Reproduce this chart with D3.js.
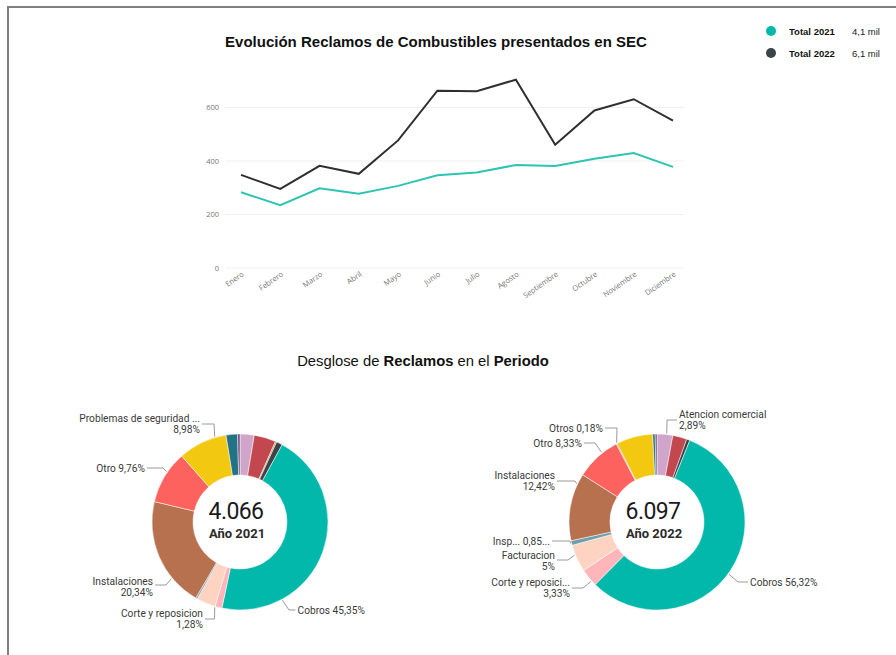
<!DOCTYPE html>
<head>
<meta charset="UTF-8">
<script src="https://d3js.org/d3.v7.min.js"></script>
<style>
  body { margin: 0; background: #fff; }
  svg { display: block; }
</style>
</head>
<body>
<div id="my_dataviz"></div>
<script>

// ---- data ----
var months = ["Enero","Febrero","Marzo","Abril","Mayo","Junio","Julio","Agosto","Septiembre","Octubre","Noviembre","Diciembre"];
var total2021 = [283, 235, 298, 278, 307, 347, 357, 385, 381, 408, 430, 378];
var total2022 = [348, 296, 382, 352, 477, 663, 661, 704, 461, 589, 631, 551];
var yTicks = [0, 200, 400, 600];

var legendNames = ["Total 2021", "Total 2022"];
var legendValues = ["4,1 mil", "6,1 mil"];

// slices in display order (clockwise from 12 o'clock)
var cats2021 = ["Atencion comercial","Calidad de suministro","Cambio de medidor","Cargos","Cobros","Corte y reposicion","Facturacion","Inspeccion","Instalaciones","Otro","Problemas de seguridad","Servicio tecnico","Tarifas"];
var pct2021  = [2.6, 4.0, 0.25, 1.1, 45.35, 1.28, 3.5, 0.3, 20.34, 9.76, 8.98, 2.1, 0.44];
var cats2022 = ["Atencion comercial","Calidad de suministro","Cargos","Cobros","Corte y reposicion","Facturacion","Inspeccion","Instalaciones","Otro","Otros","Problemas de seguridad","Servicio tecnico","Tarifas"];
var pct2022  = [2.89, 2.6, 0.6, 56.32, 3.33, 5, 0.85, 12.42, 8.33, 0.18, 6.7, 0.45, 0.33];

var colorOf = {
  "Atencion comercial": "#CFA6C9",
  "Calidad de suministro": "#C3474E",
  "Cambio de medidor": "#C4883A",
  "Cargos": "#3B4548",
  "Cobros": "#01B8AA",
  "Corte y reposicion": "#FFB5BA",
  "Facturacion": "#FFD3C2",
  "Inspeccion": "#6F9FAE",
  "Instalaciones": "#B8714F",
  "Otro": "#FD625E",
  "Otros": "#8C8C8C",
  "Problemas de seguridad": "#F2C811",
  "Servicio tecnico": "#237386",
  "Tarifas": "#6B4A7A"
};

// label texts
var labels2021 = {
  "Problemas de seguridad": ["Problemas de seguridad ...", "8,98%"],
  "Otro": ["Otro 9,76%"],
  "Instalaciones": ["Instalaciones", "20,34%"],
  "Corte y reposicion": ["Corte y reposicion", "1,28%"],
  "Cobros": ["Cobros 45,35%"]
};
var labels2022 = {
  "Atencion comercial": ["Atencion comercial", "2,89%"],
  "Otros": ["Otros 0,18%"],
  "Otro": ["Otro 8,33%"],
  "Instalaciones": ["Instalaciones", "12,42%"],
  "Inspeccion": ["Insp... 0,85..."],
  "Facturacion": ["Facturacion", "5%"],
  "Corte y reposicion": ["Corte y reposici...", "3,33%"],
  "Cobros": ["Cobros 56,32%"]
};

// leader layout: a = angle on ring (deg), elbow (ex,ey), text edge tx, block centre ty  (relative to donut centre)
var layout2021 = {
  "Problemas de seguridad": {a: 343.5, ex: -26, ey: -98, tx: -40, ty: -98},
  "Otro": {a: 304.5, ex: -77, ey: -54, tx: -95, ty: -54},
  "Instalaciones": {a: 230.5, ex: -74, ey: 63, tx: -87, ty: 65},
  "Corte y reposicion": {a: 196.5, ex: -25.5, ey: 97, tx: -37, ty: 97},
  "Cobros": {a: 151.5, ex: 49, ey: 88, tx: 57.5, ty: 88}
};
var layout2022 = {
  "Atencion comercial": {a: 6.3, ex: 10, ey: -102, tx: 22, ty: -102},
  "Otros": {a: 333, ex: -40, ey: -94, tx: -54, ty: -94},
  "Otro": {a: 321.5, ex: -62, ey: -79, tx: -75, ty: -79},
  "Instalaciones": {a: 295.5, ex: -82, ey: -41, tx: -102, ty: -41},
  "Inspeccion": {a: 256, ex: -87, ey: 19, tx: -107, ty: 19},
  "Facturacion": {a: 248, ex: -89, ey: 38, tx: -102, ty: 38.5},
  "Corte y reposicion": {a: 228, ex: -74, ey: 66, tx: -87, ty: 65.5},
  "Cobros": {a: 126, ex: 81, ey: 60, tx: 93, ty: 60}
};

var W = 896, H = 655;
var svg = d3.select("#my_dataviz")
  .append("svg")
    .attr("width", W)
    .attr("height", H);

// page frame
svg.append("path")
  .attr("d", "M8," + H + "V7H" + W)
  .attr("fill", "none")
  .attr("stroke", "#808080")
  .attr("stroke-width", 2);

// ---- line chart ----
svg.append("text")
  .attr("x", 436)
  .attr("y", 47)
  .attr("text-anchor", "middle")
  .style("font-family", "'Liberation Sans', Arial, sans-serif")
  .style("font-size", "15px")
  .style("font-weight", "bold")
  .style("fill", "#111")
  .text("Evolución Reclamos de Combustibles presentados en SEC");

var x = d3.scalePoint()
  .domain(months)
  .range([241, 673]);

var y = d3.scaleLinear()
  .domain([0, 600])
  .range([268, 107.5]);

// gridlines
svg.append("g")
  .selectAll("line")
  .data(yTicks)
  .enter()
  .append("line")
    .attr("x1", 225)
    .attr("x2", 684)
    .attr("y1", function(d) { return y(d) })
    .attr("y2", function(d) { return y(d) })
    .attr("stroke", "#f0f0f0")
    .attr("stroke-width", 1);

var yAxis = svg.append("g")
  .attr("transform", "translate(222,0)")
  .call(d3.axisLeft(y).tickValues(yTicks).tickSize(0).tickPadding(3));
yAxis.select(".domain").remove();
yAxis.selectAll("text")
  .style("font-family", "'Open Sans', sans-serif")
  .style("font-size", "7.5px")
  .style("fill", "#777");

var xAxis = svg.append("g")
  .attr("transform", "translate(0,271)")
  .call(d3.axisBottom(x).tickSize(0).tickPadding(0));
xAxis.select(".domain").remove();
xAxis.selectAll("text")
  .style("font-family", "'Open Sans', sans-serif")
  .style("font-size", "7.5px")
  .style("fill", "#777")
  .attr("text-anchor", "end")
  .attr("dy", "0.7em")
  .attr("transform", "rotate(-35)");

var line = d3.line()
  .x(function(d, i) { return x(months[i]) })
  .y(function(d) { return y(d) });

svg.append("path")
  .datum(total2021)
  .attr("d", line)
  .attr("fill", "none")
  .attr("stroke", "#2EC4B2")
  .attr("stroke-width", 2);

svg.append("path")
  .datum(total2022)
  .attr("d", line)
  .attr("fill", "none")
  .attr("stroke", "#2f2f2f")
  .attr("stroke-width", 2);

// legend
var legendColors = ["#01B8AA", "#374649"];
var legend = svg.append("g")
  .selectAll("g")
  .data(legendNames)
  .enter()
  .append("g")
    .attr("transform", function(d, i) { return "translate(771," + (31 + i * 22) + ")" });
legend.append("circle")
  .attr("r", 5)
  .attr("fill", function(d, i) { return legendColors[i] });
legend.append("text")
  .attr("x", 18)
  .attr("y", 3.5)
  .style("font-family", "'Liberation Sans', Arial, sans-serif")
  .style("font-size", "9.5px")
  .style("font-weight", "bold")
  .style("fill", "#111")
  .text(function(d) { return d });
legend.append("text")
  .attr("x", 81)
  .attr("y", 3.5)
  .style("font-family", "'Liberation Sans', Arial, sans-serif")
  .style("font-size", "9.5px")
  .style("fill", "#222")
  .text(function(d, i) { return legendValues[i] });

// ---- donuts ----
var sub = svg.append("text")
  .attr("x", 423)
  .attr("y", 366)
  .attr("text-anchor", "middle")
  .style("font-family", "'Liberation Sans', Arial, sans-serif")
  .style("font-size", "14.8px")
  .style("fill", "#111");
sub.append("tspan").text("Desglose de ");
sub.append("tspan").style("font-weight", "bold").text("Reclamos");
sub.append("tspan").text(" en el ");
sub.append("tspan").style("font-weight", "bold").text("Periodo");

var rOuter = 88, rInner = 47;

function drawDonut(cx, cy, cats, pcts, labels, layout, total, year) {
  var g = svg.append("g").attr("transform", "translate(" + cx + "," + cy + ")");
  var data = cats.map(function(c, i) { return {name: c, value: pcts[i]} });

  var pie = d3.pie().sort(null).value(function(d) { return d.value });
  var arc = d3.arc().innerRadius(rInner).outerRadius(rOuter);

  g.selectAll("path")
    .data(pie(data))
    .enter()
    .append("path")
      .attr("d", arc)
      .attr("fill", function(d) { return colorOf[d.data.name] })
      .attr("stroke", "#fff")
      .attr("stroke-width", 0.5);

  var font = "'Roboto', 'DejaVu Sans', sans-serif";
  Object.keys(labels).forEach(function(name) {
    var L = layout[name];
    var lines = labels[name];
    var a = L.a * Math.PI / 180;
    var px = (rOuter + 1) * Math.sin(a), py = -(rOuter + 1) * Math.cos(a);
    var right = L.tx > 0;
    var hx = right ? L.tx - 2 : L.tx + 2;
    g.append("path")
      .attr("d", "M" + px + "," + py + "L" + L.ex + "," + L.ey + "L" + hx + "," + L.ey)
      .attr("fill", "none")
      .attr("stroke", "#9a9a9a")
      .attr("stroke-width", 1);
    var lh = 11;
    var y0 = L.ty - (lines.length - 1) * lh / 2;
    lines.forEach(function(t, i) {
      g.append("text")
        .attr("x", L.tx)
        .attr("y", y0 + i * lh)
        .attr("dy", "0.35em")
        .attr("text-anchor", right ? "start" : "end")
        .style("font-family", font)
        .style("font-size", "10.2px")
        .style("fill", "#3a3a3a")
        .text(t);
    });
  });

  g.append("text")
    .attr("x", -4)
    .attr("y", -3)
    .attr("text-anchor", "middle")
    .style("font-family", font)
    .style("font-size", "23px")
    .style("letter-spacing", "-0.6px")
    .style("fill", "#1a1a1a")
    .text(total);
  g.append("text")
    .attr("x", -3)
    .attr("y", 15.5)
    .attr("text-anchor", "middle")
    .style("font-family", font)
    .style("font-size", "13px")
    .style("font-weight", "bold")
    .style("fill", "#2a2a2a")
    .text("Año " + year);
}

drawDonut(240, 522, cats2021, pct2021, labels2021, layout2021, "4.066", "2021");
drawDonut(657, 522, cats2022, pct2022, labels2022, layout2022, "6.097", "2022");

</script>
</body>
